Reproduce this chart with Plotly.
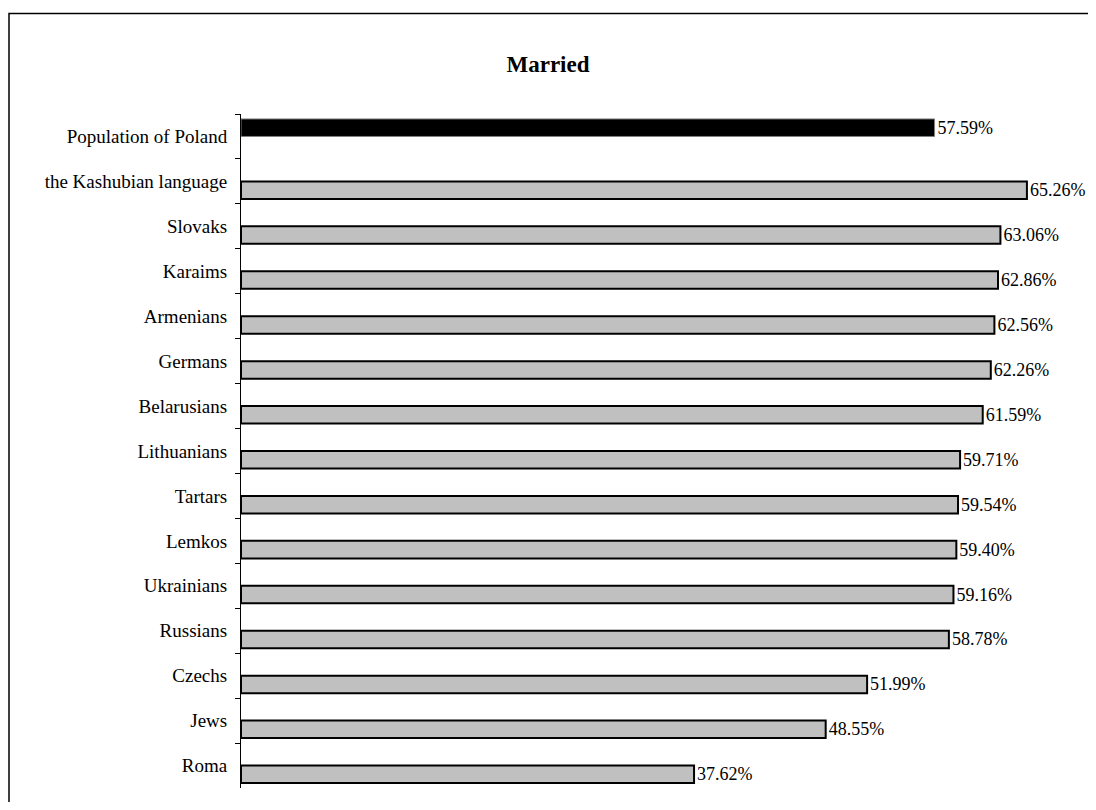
import plotly.graph_objects as go

categories = ["Population of Poland", "the Kashubian language", "Slovaks", "Karaims",
              "Armenians", "Germans", "Belarusians", "Lithuanians", "Tartars", "Lemkos",
              "Ukrainians", "Russians", "Czechs", "Jews", "Roma"]
poland_category = ["Population of Poland"]
poland_value = [57.59]
group_categories = categories[1:]
group_values = [65.26, 63.06, 62.86, 62.56, 62.26, 61.59, 59.71, 59.54, 59.40,
                59.16, 58.78, 51.99, 48.55, 37.62]

FONT = "Liberation Serif, Times New Roman, serif"
BAR_W = 0.39

fig = go.Figure()
fig.add_trace(go.Bar(
    y=poland_category, x=poland_value, orientation="h",
    width=BAR_W, offset=-BAR_W,
    marker=dict(color="#000000", line=dict(color="#808080", width=1)),
    texttemplate="%{x:.2f}%", textposition="outside", constraintext="none",
    textfont=dict(family=FONT, size=18, color="black"),
    cliponaxis=False, showlegend=False, hoverinfo="skip",
))
fig.add_trace(go.Bar(
    y=group_categories, x=group_values, orientation="h",
    width=BAR_W, offset=0,
    marker=dict(color="#C0C0C0", line=dict(color="#000000", width=2)),
    texttemplate="%{x:.2f}%", textposition="outside", constraintext="none",
    textfont=dict(family=FONT, size=18, color="black"),
    cliponaxis=False, showlegend=False, hoverinfo="skip",
))

# page body has an 8px margin on every side; keep the figure inside the window
SH = 8
W, H = 1096 - 2 * SH, 810 - 2 * SH
L, T = 241 - SH, 114 - SH
R = W - (1084 - SH)
B = H - (788 - SH)
pw, ph = W - L - R, H - T - B

fig.update_layout(
    width=W, height=H,
    margin=dict(l=L, r=R, t=T, b=B, pad=0),
    paper_bgcolor="white", plot_bgcolor="white",
    barmode="overlay",
    font=dict(family=FONT, size=19, color="black"),
    title=dict(text="<b>Married</b>", x=(548 - SH) / W, xref="container", xanchor="center",
               y=1 - (64 - SH) / H, yref="container", yanchor="middle",
               font=dict(family=FONT, size=23, color="black")),
    xaxis=dict(range=[0, 70], visible=False, fixedrange=True),
    yaxis=dict(type="category", categoryorder="array", categoryarray=categories,
               autorange="reversed", showline=True, linecolor="black", linewidth=1,
               ticks="outside", tickson="boundaries", ticklen=5, tickcolor="black",
               tickwidth=1, showgrid=False, zeroline=False,
               ticklabelstandoff=9,
               tickfont=dict(family=FONT, size=19, color="black")),
    shapes=[dict(type="rect", xref="paper", yref="paper",
                 x0=(9 - SH - L) / pw, x1=(1110 - SH - L) / pw,
                 y0=(H - B - (825 - SH)) / ph, y1=(H - B - (13.5 - SH)) / ph,
                 line=dict(color="black", width=1.5), fillcolor="rgba(0,0,0,0)",
                 layer="above")],
)

fig.write_html("out.html")
